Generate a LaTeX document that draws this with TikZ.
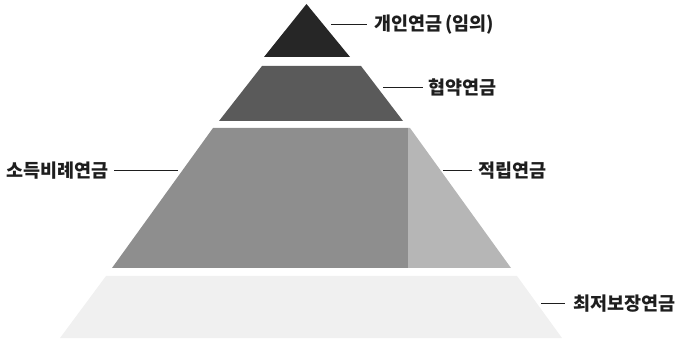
\documentclass[tikz,border=0pt]{standalone}
\usepackage{fontspec}
\newfontfamily\kr{Noto Sans CJK KR}
\definecolor{tierA}{HTML}{262626}
\definecolor{tierB}{HTML}{5A5A5A}
\definecolor{tierC}{HTML}{8E8E8E}
\definecolor{tierD}{HTML}{B6B6B6}
\definecolor{tierE}{HTML}{F0F0F0}
\definecolor{ink}{HTML}{1E1E1E}
\tikzset{
  lbl/.style={font=\kr\fontsize{18.5}{18.5}\selectfont\bfseries, text=ink, inner sep=0pt},
  leader/.style={draw=ink, line width=1.2pt},
}
\begin{document}
\begin{tikzpicture}[x=1pt,y=-1pt]
\useasboundingbox (0,0) rectangle (679,344);
% tiers
\fill[tierE] (106,276) -- (517,276) -- (562,338) -- (60,338) -- cycle;
\fill[tierC] (213,128) -- (408,128) -- (408,268) -- (112,268) -- cycle;
\fill[tierD] (408,128) -- (410,128) -- (511,268) -- (408,268) -- cycle;
\fill[tierB] (262,66) -- (361,66) -- (403,121) -- (219,121) -- cycle;
\fill[tierA] (306.5,4) -- (350,57) -- (264,57) -- cycle;
% labels
\node[lbl, anchor=west] (l1) at (374,24.5) {개인연금\,(임의)};
\node[lbl, anchor=west] (l2) at (428,87.5) {협약연금};
\node[lbl, anchor=west] (l3) at (6,170.5) {소득비례연금};
\node[lbl, anchor=west] (l4) at (478,170.5) {적립연금};
\node[lbl, anchor=west] (l5) at (573,303.5) {최저보장연금};
% leader ends
\coordinate (c1) at (331,24.5);
\coordinate (c2) at (383,87.5);
\coordinate (c3) at (178,170.5);
\coordinate (c4) at (443,170.5);
\coordinate (c5) at (541,303.5);
\draw[leader] (c1) -- ([xshift=-7pt]l1.west);
\draw[leader] (c2) -- ([xshift=-5pt]l2.west);
\draw[leader] (c3) -- ([xshift=5pt]l3.east);
\draw[leader] (c4) -- ([xshift=-6pt]l4.west);
\draw[leader] (c5) -- ([xshift=-8pt]l5.west);
\end{tikzpicture}
\end{document}
